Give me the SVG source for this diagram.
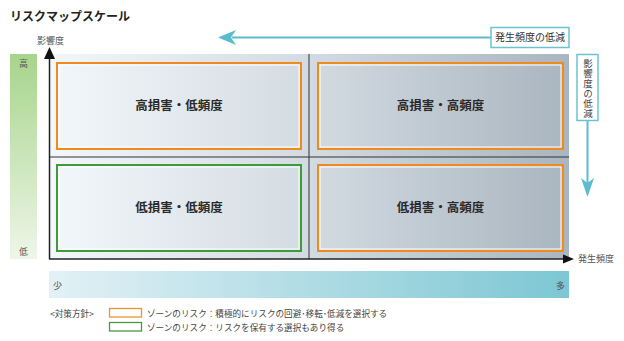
<svg xmlns="http://www.w3.org/2000/svg" width="624" height="341" viewBox="0 0 624 341">
<style>
text{font-family:"Noto Sans CJK JP","Noto Sans",sans-serif;}
.title{font-size:12px;font-weight:bold;fill:#222;}
.quad{font-size:12.5px;font-weight:bold;fill:#2a2a2a;text-anchor:middle;}
.lbl{font-size:9px;fill:#555;}
.leg{font-size:8.6px;fill:#444;}
.tealbox{fill:#fff;stroke:#6cc3d0;stroke-width:1.5;}
.teal{fill:none;stroke:#5bbccb;stroke-width:2;}
.axis{stroke:#222;stroke-width:1.5;fill:none;}
.div{stroke:#333;stroke-width:1;fill:none;}
.orange{fill:none;stroke:#f08a1c;stroke-width:2;}
.green{fill:none;stroke:#3f9a3a;stroke-width:2;}
.inner{fill:none;stroke:#fff;stroke-width:1;}
</style>
<defs>
<linearGradient id="gMain" x1="0" y1="0" x2="1" y2="0">
<stop offset="0" stop-color="#f3f7fa"/>
<stop offset="0.5" stop-color="#d3dbe2"/>
<stop offset="1" stop-color="#a9b5bf"/>
</linearGradient>
<linearGradient id="gGreen" x1="0" y1="0" x2="0" y2="1">
<stop offset="0" stop-color="#a7d48b"/>
<stop offset="1" stop-color="#eef6e9"/>
</linearGradient>
<linearGradient id="gBlue" x1="0" y1="0" x2="1" y2="0">
<stop offset="0" stop-color="#e3f1f6"/>
<stop offset="1" stop-color="#7cc7d3"/>
</linearGradient>
</defs>

<text class="title" x="10" y="21">リスクマップスケール</text>

<g id="matrix">
<rect x="49" y="54" width="520" height="205" fill="url(#gMain)"/>
</g>

<g id="impact-scale">
<rect x="10" y="54" width="27" height="205" fill="url(#gGreen)"/>
<text class="lbl" x="23.5" y="67" text-anchor="middle" font-size="10">高</text>
<text class="lbl" x="23.5" y="255" text-anchor="middle" font-size="10">低</text>
</g>

<g id="freq-scale">
<rect x="49" y="271" width="520" height="27" fill="url(#gBlue)"/>
<text class="lbl" x="53" y="289">少</text>
<text class="lbl" x="556" y="289">多</text>
</g>

<g id="connectors">
<line class="div" x1="309" y1="54" x2="309" y2="259"/>
<line class="div" x1="49" y1="157" x2="569" y2="157"/>
<line class="axis" x1="49.5" y1="259" x2="49.5" y2="56"/>
<polygon points="49.5,47 44,59 55,59" fill="#111"/>
<line class="axis" x1="49" y1="259" x2="565" y2="259"/>
<polygon points="574,259 563,254.5 563,263.5" fill="#111"/>
<line class="teal" x1="232" y1="37.5" x2="491" y2="37.5"/>
<polygon points="218,37.5 236,30 231,37.5 236,45" fill="#5bbccb"/>
<line class="teal" x1="587.5" y1="121" x2="587.5" y2="186"/>
<polygon points="587.5,197 581,178 587.5,183 594,178" fill="#5bbccb"/>
</g>

<g id="q-high-low">
<rect class="orange" x="57" y="63" width="244" height="86"/>
<rect class="inner" x="59" y="65" width="240" height="82"/>
<text class="quad" x="179" y="110">高損害・低頻度</text>
</g>
<g id="q-high-high">
<rect class="orange" x="318" y="63" width="245" height="86"/>
<rect class="inner" x="320" y="65" width="241" height="82"/>
<text class="quad" x="440.5" y="110">高損害・高頻度</text>
</g>
<g id="q-low-low">
<rect class="green" x="57" y="165" width="244" height="86"/>
<rect class="inner" x="59" y="167" width="240" height="82"/>
<text class="quad" x="179" y="212">低損害・低頻度</text>
</g>
<g id="q-low-high">
<rect class="orange" x="318" y="165" width="245" height="86"/>
<rect class="inner" x="320" y="167" width="241" height="82"/>
<text class="quad" x="440.5" y="212">低損害・高頻度</text>
</g>

<g id="axis-labels">
<text class="lbl" x="37" y="43.5">影響度</text>
<text class="lbl" x="578" y="262">発生頻度</text>
</g>

<g id="freq-reduce">
<rect class="tealbox" x="491" y="27.5" width="78" height="20"/>
<text x="530" y="41" font-size="10" fill="#333" text-anchor="middle">発生頻度の低減</text>
</g>

<g id="impact-reduce">
<rect class="tealbox" x="577" y="54.5" width="21" height="66"/>
<text x="588" y="59" font-size="9.5" fill="#444" style="writing-mode:vertical-rl" text-anchor="start" letter-spacing="0.5">影響度の低減</text>
</g>

<g id="legend">
<text class="leg" x="50" y="316.5">&lt;対策方針&gt;</text>
<rect x="109.5" y="308.5" width="32" height="8.5" fill="#fff" stroke="#f0922e" stroke-width="1.3"/>
<text class="leg" x="147" y="316.5">ゾーンのリスク：積極的にリスクの回避･移転･低減を選択する</text>
<rect x="109.5" y="322.5" width="32" height="8.5" fill="#fff" stroke="#4a9a44" stroke-width="1.3"/>
<text class="leg" x="147" y="330.5">ゾーンのリスク：リスクを保有する選択もあり得る</text>
</g>
</svg>
